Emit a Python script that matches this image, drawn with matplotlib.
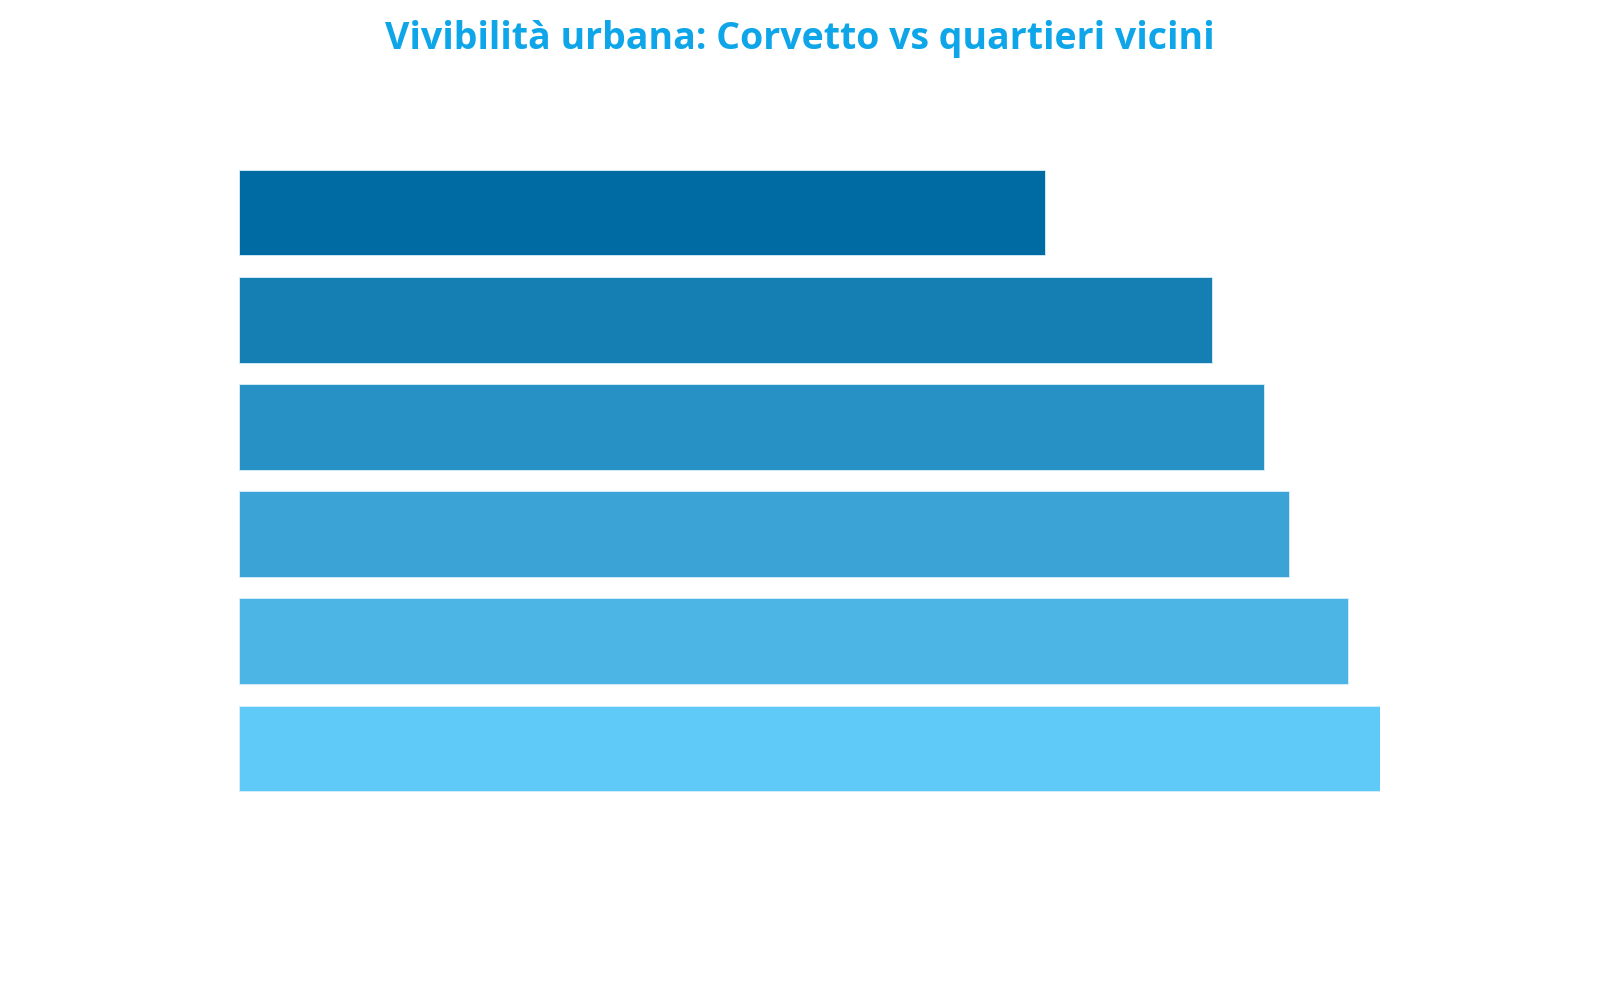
import matplotlib
matplotlib.use("Agg")
import matplotlib.pyplot as plt

# quartieri (etichette non mostrate nel grafico)
quartieri = ["Corvetto", "Rogoredo", "Lodi", "Porta Romana", "Vigentina", "Ripamonti"]
punteggi = [5.65, 6.82, 7.19, 7.36, 7.78, 8.0]
colori = ["#006ba2", "#157fb3", "#2790c5", "#3ba3d6", "#4db5e6", "#5fc9f8"]

fig = plt.figure(figsize=(16, 10), dpi=100)
ax = fig.add_axes([0.1494, 0.198, 0.713, 0.643])

ax.barh(range(len(quartieri)), punteggi, height=0.8, color=colori,
        edgecolor="#d9f0fb", linewidth=0.6)
ax.set_xlim(0, 8.0)
ax.set_ylim(len(quartieri) - 0.5, -0.5)
ax.axis("off")

fig.text(0.5, 0.961, "Vivibilità urbana: Corvetto vs quartieri vicini",
         ha="center", va="center", fontsize=27, fontweight="bold",
         color="#0ea5e9", family=["Open Sans", "DejaVu Sans"])

fig.savefig("out.png", dpi=100, facecolor="white")
